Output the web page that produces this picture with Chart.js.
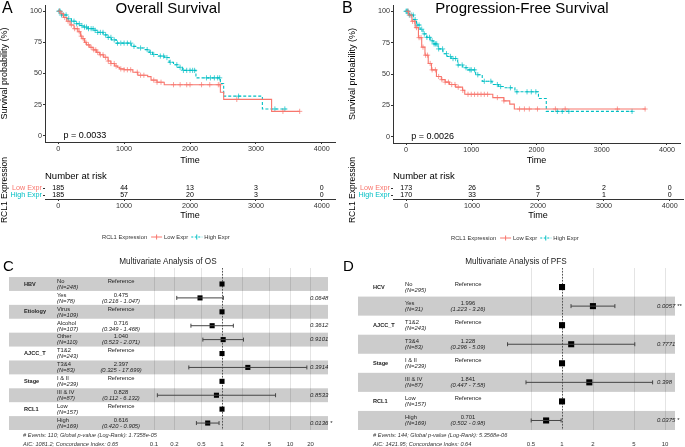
<!DOCTYPE html>
<html>
<head>
<meta charset="utf-8">
<script src="https://cdn.jsdelivr.net/npm/chart.js@4.4.1/dist/chart.umd.min.js"></script>
<style>
body { margin: 0; background: #fff; }
#fig { position: relative; width: 685px; height: 447px; overflow: hidden; background: #fff;
       font-family: "Liberation Sans", Arial, sans-serif; color: #000; }
#fig canvas { position: absolute; }
.lbl { position: absolute; white-space: nowrap; line-height: 1; }
</style>
</head>
<body>
<div id="fig">
  <canvas id="kmA" width="345" height="165" style="left:0px;top:0px"></canvas>
  <canvas id="kmB" width="345" height="165" style="left:340px;top:0px"></canvas>
  <canvas id="riskA" width="345" height="95" style="left:0px;top:150px"></canvas>
  <canvas id="riskB" width="345" height="95" style="left:340px;top:150px"></canvas>
  <canvas id="forestC" width="345" height="192" style="left:0px;top:255px"></canvas>
  <canvas id="forestD" width="345" height="192" style="left:340px;top:255px"></canvas>

  <div class="lbl" style="left:2px;top:0px;font-size:16px">A</div>
  <div class="lbl" style="left:68px;top:0px;width:200px;text-align:center;font-size:15px">Overall Survival</div>
  <div class="lbl" style="left:342px;top:0px;font-size:16px">B</div>
  <div class="lbl" style="left:402px;top:0px;width:240px;text-align:center;font-size:15px">Progression-Free Survival</div>
  <div class="lbl" style="left:3px;top:258px;font-size:15px">C</div>
  <div class="lbl" style="left:68px;top:258px;width:200px;text-align:center;font-size:8.2px;color:#222">Multivariate Analysis of OS</div>
  <div class="lbl" style="left:343px;top:258px;font-size:15px">D</div>
  <div class="lbl" style="left:416px;top:258px;width:200px;text-align:center;font-size:8.2px;color:#222">Multivariate Analysis of PFS</div>
</div>

<script>
// colours and font
const RED = "#F8766D";
const CYAN = "#00BFC4";
const FONT = "'Liberation Sans', Arial, sans-serif";
Chart.defaults.font.family = FONT;

// ---- Kaplan-Meier data ----
const timeTicks = [0, 1000, 2000, 3000, 4000];
const survTicks = [0, 25, 50, 75, 100];
const groups = ["Low Expr", "High Expr"];

const osLowT = [0, 40, 80, 130, 180, 240, 300, 340, 360, 400, 430, 480, 530, 580, 630, 690, 757, 800, 857, 900, 932, 1000, 1133, 1208, 1358, 1409, 1500, 1609, 2461, 2511, 3238, 3664];
const osLowS = [100, 98, 95, 92, 89, 86, 83.5, 80, 78, 75, 73, 71, 69, 67, 65, 63, 60, 58, 56, 55, 53.7, 53, 51, 48.6, 47.5, 44.7, 43, 41, 35, 29.2, 19.6, 19.6];
const osLowCens = [20, 60, 100, 150, 200, 250, 290, 320, 350, 380, 420, 460, 500, 540, 570, 600, 640, 680, 720, 760, 800, 850, 880, 950, 1000, 1050, 1100, 1200, 1250, 1300, 1450, 1500, 1560, 1750, 1850, 1950, 2000, 2175, 2300, 2430, 2456, 2710, 3410, 3664];

const osHighT = [0, 50, 130, 200, 280, 330, 380, 450, 531, 600, 681, 750, 807, 882, 1108, 1200, 1308, 1380, 1433, 1520, 1609, 1684, 1750, 1809, 1884, 2090, 2461, 2511, 3098, 3463];
const osHighS = [100, 97, 94, 92, 90, 88.5, 87.3, 86, 84.7, 83, 81, 79, 77, 74.4, 71.8, 70.5, 69.2, 67, 65.3, 64, 62.8, 59, 57, 55, 52.5, 46.5, 42, 31.8, 21.5, 21.5];
const osHighCens = [10, 20, 30, 50, 80, 120, 160, 200, 240, 280, 320, 360, 400, 430, 460, 500, 530, 560, 600, 640, 680, 720, 760, 800, 850, 900, 950, 1000, 1050, 1100, 1150, 1250, 1350, 1400, 1450, 1550, 1600, 1650, 1700, 1800, 1850, 1900, 1950, 2000, 2040, 2070, 2250, 2310, 2370, 2420, 2450, 2737, 3288, 3439];

const pfsLowT = [0, 40, 90, 140, 190, 240, 290, 340, 390, 466, 541, 600, 666, 760, 866, 900, 1330, 1500, 1590, 1660, 3674];
const pfsLowS = [100, 97, 92, 87, 79, 71.4, 65, 58.4, 53.3, 48, 45.5, 43.5, 41.6, 39.5, 37, 33.8, 31.2, 28.6, 26, 22.1, 22.1];
const pfsLowCens = [30, 60, 100, 130, 160, 200, 230, 260, 300, 330, 370, 400, 450, 500, 550, 600, 650, 700, 750, 800, 870, 950, 1000, 1050, 1100, 1150, 1200, 1250, 1400, 1500, 1740, 1815, 1890, 2015, 2290, 2440, 3240, 3665];

const pfsHighT = [0, 50, 115, 160, 215, 260, 316, 370, 416, 491, 566, 630, 691, 792, 870, 942, 1067, 1168, 1318, 1420, 1519, 1669, 2030, 2150, 3473];
const pfsHighS = [100, 97, 93.4, 89, 85.7, 82, 79.2, 76.5, 74, 70, 66.2, 64, 62.3, 57.2, 55, 53.3, 49.4, 44.2, 41.6, 40, 39, 35.8, 30.5, 20.2, 20.2];
const pfsHighCens = [0, 10, 20, 30, 50, 80, 110, 140, 170, 200, 240, 280, 320, 360, 400, 430, 450, 470, 500, 560, 620, 680, 720, 760, 800, 860, 920, 980, 1000, 1050, 1100, 1200, 1300, 1400, 1450, 1600, 1700, 1855, 1920, 1990, 2320, 2395, 2496, 3465];

// number at risk
const riskTimes = [0, 1000, 2000, 3000, 4000];
const osRiskLow = [185, 44, 13, 3, 0];
const osRiskHigh = [185, 57, 20, 3, 0];
const pfsRiskLow = [173, 26, 5, 2, 0];
const pfsRiskHigh = [170, 33, 7, 1, 0];

// ---- forest plot data ----
const osVars = ["HBV", "", "Etiology", "", "", "AJCC_T", "", "Stage", "", "RCL1", ""];
const osLevels = ["No", "Yes", "Virus", "Alcohol", "Other", "T1&2", "T3&4", "I & II", "III & IV", "Low", "High"];
const osN = [248, 78, 109, 107, 110, 243, 83, 239, 87, 157, 169];
const osHR = [1, 0.475, 1, 0.716, 1.040, 1, 2.397, 1, 0.828, 1, 0.616];
const osLo = [null, 0.216, null, 0.349, 0.523, null, 0.325, null, 0.112, null, 0.420];
const osHi = [null, 1.047, null, 1.468, 2.071, null, 17.699, null, 6.132, null, 0.905];
const osP = ["", "0.0648", "", "0.3612", "0.9101", "", "0.3914", "", "0.8533", "", "0.0136 *"];
const osTicks = [0.1, 0.2, 0.5, 1, 2, 5, 10, 20];
const osFoot = ["# Events: 110; Global p-value (Log-Rank): 1.7358e-05", "AIC: 1081.2; Concordance Index: 0.65"];

const pfsVars = ["HCV", "", "AJCC_T", "", "Stage", "", "RCL1", ""];
const pfsLevels = ["No", "Yes", "T1&2", "T3&4", "I & II", "III & IV", "Low", "High"];
const pfsN = [295, 31, 243, 83, 239, 87, 157, 169];
const pfsHR = [1, 1.996, 1, 1.228, 1, 1.841, 1, 0.701];
const pfsLo = [null, 1.223, null, 0.296, null, 0.447, null, 0.502];
const pfsHi = [null, 3.26, null, 5.09, null, 7.58, null, 0.98];
const pfsP = ["", "0.0057 **", "", "0.7771", "", "0.398", "", "0.0375 *"];
const pfsTicks = [0.5, 1, 2, 5, 10];
const pfsFoot = ["# Events: 144; Global p-value (Log-Rank): 5.3568e-06", "AIC: 1421.95; Concordance Index: 0.64"];

// helpers
function pts(xs, ys) {
    return xs.map((x, i) => ({x: x, y: ys[i]}));
}
function stepValue(ts, ss, t) {
    let v = ss[0];
    for (let i = 0; i < ts.length; i++) {
        if (ts[i] <= t) v = ss[i];
    }
    return v;
}
function censorPts(cens, ts, ss) {
    return cens.map(t => ({x: t, y: stepValue(ts, ss, t)}));
}
function setTicks(list) {
    return s => { s.ticks = list.map(v => ({value: v})); };
}

//Survival curves

function drawKM(id, pad, lowT, lowS, lowC, highT, highS, highC, pText) {
    new Chart(document.getElementById(id), {
        type: "scatter",
        data: {
            datasets: [
                {data: pts(lowT, lowS), showLine: true, stepped: true, borderColor: RED, borderWidth: 1.1, pointRadius: 0},
                {data: pts(highT, highS), showLine: true, stepped: true, borderColor: CYAN, borderWidth: 1.1, borderDash: [3, 2], pointRadius: 0},
                {data: censorPts(lowC, lowT, lowS), pointStyle: "cross", pointRadius: 2.6, borderColor: "rgba(248,118,109,0.7)", borderWidth: 1},
                {data: censorPts(highC, highT, highS), pointStyle: "cross", pointRadius: 2.6, borderColor: "rgba(0,191,196,0.7)", borderWidth: 1}
            ]
        },
        options: {
            responsive: false,
            animation: false,
            devicePixelRatio: 1,
            layout: {padding: {left: pad.left, right: pad.right, top: pad.top, bottom: 0}},
            plugins: {legend: {display: false}, tooltip: {enabled: false}},
            scales: {
                x: {
                    type: "linear", min: -200, max: 4200,
                    afterBuildTicks: setTicks(timeTicks),
                    afterFit: s => { s.height = pad.xh; s.paddingLeft = 0; s.paddingRight = 0; },
                    grid: {drawOnChartArea: false, tickLength: 2, color: "#333"},
                    border: {color: "#333"},
                    ticks: {font: {size: 7.2}, color: "#333", padding: 1, maxRotation: 0, autoSkip: false, callback: v => String(v)},
                    title: {display: true, text: "Time", font: {size: 9, lineHeight: 1}, color: "#000", padding: 0}
                },
                y: {
                    min: -5, max: 105,
                    afterBuildTicks: setTicks(survTicks),
                    afterFit: s => { s.width = 45; s.paddingTop = 0; s.paddingBottom = 0; },
                    grid: {drawOnChartArea: false, tickLength: 2, color: "#333"},
                    border: {color: "#333"},
                    ticks: {font: {size: 7.2}, color: "#333", padding: 1, autoSkip: false, callback: v => String(v)},
                    title: {display: true, text: "Survival probability (%)", font: {size: 9, lineHeight: 1}, color: "#000", padding: {top: 0.5, bottom: 0}}
                }
            }
        },
        plugins: [{
            id: "pval",
            afterDatasetsDraw(chart) {
                const c = chart.ctx;
                c.save();
                c.font = "9px " + FONT;
                c.fillStyle = "#000";
                c.textBaseline = "middle";
                c.fillText(pText, chart.scales.x.getPixelForValue(80), chart.scales.y.getPixelForValue(0));
                c.restore();
            }
        }]
    });
}

drawKM("kmA", {left: 0, right: 10, top: 0, xh: 23}, osLowT, osLowS, osLowCens, osHighT, osHighS, osHighCens, "p = 0.0033");
drawKM("kmB", {left: 8, right: 2, top: 2, xh: 22}, pfsLowT, pfsLowS, pfsLowCens, pfsHighT, pfsHighS, pfsHighCens, "p = 0.0026");

//Risk tables + legend

function drawRisk(id, pad, lowN, highN, legendX, legendY) {
    new Chart(document.getElementById(id), {
        type: "scatter",
        data: {
            datasets: [
                {data: riskTimes.map(t => ({x: t, y: 2})), counts: lowN, pointRadius: 0},
                {data: riskTimes.map(t => ({x: t, y: 1})), counts: highN, pointRadius: 0}
            ]
        },
        options: {
            responsive: false,
            animation: false,
            devicePixelRatio: 1,
            layout: {padding: {left: pad.left, right: pad.right, top: 31, bottom: 15}},
            plugins: {legend: {display: false}, tooltip: {enabled: false}},
            scales: {
                x: {
                    type: "linear", min: -200, max: 4200,
                    afterBuildTicks: setTicks(timeTicks),
                    afterFit: s => { s.height = 31; s.paddingLeft = 0; s.paddingRight = 0; },
                    grid: {drawOnChartArea: false, tickLength: 2, color: "#333"},
                    border: {color: "#333"},
                    ticks: {font: {size: 7.2}, color: "#333", padding: 1, maxRotation: 0, autoSkip: false, callback: v => String(v)},
                    title: {display: true, text: "Time", font: {size: 9, lineHeight: 1}, color: "#000", padding: {top: 0, bottom: 9.5}}
                },
                y: {
                    min: 0.43, max: 3,
                    afterBuildTicks: setTicks([1, 2]),
                    afterFit: s => { s.width = 45; s.paddingTop = 0; s.paddingBottom = 0; },
                    grid: {drawOnChartArea: false, tickLength: 2, color: "#333"},
                    border: {display: false},
                    ticks: {
                        font: {size: 7.2}, padding: 1, autoSkip: false,
                        color: ctx => (ctx.tick && ctx.tick.value === 2) ? RED : CYAN,
                        callback: v => v === 2 ? groups[0] : groups[1]
                    },
                    title: {display: true, text: "RCL1 Expression", font: {size: 8.5, lineHeight: 1}, color: "#000", padding: {top: 0.5, bottom: 0}}
                }
            }
        },
        plugins: [{
            id: "riskText",
            afterDatasetsDraw(chart) {
                const c = chart.ctx;
                c.save();
                c.fillStyle = "#000";
                c.textBaseline = "middle";
                c.font = "9.5px " + FONT;
                c.fillText("Number at risk", chart.chartArea.left, 26);
                c.font = "7px " + FONT;
                c.textAlign = "center";
                chart.data.datasets.forEach((ds, di) => {
                    chart.getDatasetMeta(di).data.forEach((p, i) => {
                        c.fillText(String(ds.counts[i]), p.x, p.y);
                    });
                });
                // legend
                c.textAlign = "left";
                c.font = "5.8px " + FONT;
                c.fillStyle = "#333";
                let x = legendX;
                c.fillText("RCL1 Expression", x, legendY);
                x += c.measureText("RCL1 Expression").width + 4;
                [[RED, [], groups[0]], [CYAN, [2, 1.5], groups[1]]].forEach(item => {
                    c.strokeStyle = item[0];
                    c.lineWidth = 1;
                    c.setLineDash(item[1]);
                    c.beginPath();
                    c.moveTo(x, legendY);
                    c.lineTo(x + 11, legendY);
                    c.stroke();
                    c.setLineDash([]);
                    c.beginPath();
                    c.moveTo(x + 5.5, legendY - 2.5);
                    c.lineTo(x + 5.5, legendY + 2.5);
                    c.stroke();
                    x += 13;
                    c.fillText(item[2], x, legendY);
                    x += c.measureText(item[2]).width + 3;
                });
                c.restore();
            }
        }]
    });
}

drawRisk("riskA", {left: 0, right: 10}, osRiskLow, osRiskHigh, 102, 87);
drawRisk("riskB", {left: 8, right: 2}, pfsRiskLow, pfsRiskHigh, 111, 88);

//Forest plots

function drawForest(id, f) {
    const n = f.levels.length;
    const bars = [];
    f.hr.forEach((hr, i) => {
        if (f.lo[i] === null) return;
        bars.push({
            data: [{x: f.lo[i], y: i + 1}, {x: f.hi[i], y: i + 1}],
            showLine: true, borderColor: "#444", borderWidth: 1,
            pointStyle: "line", rotation: 90, pointRadius: 2, pointBorderColor: "#444", pointBorderWidth: 1
        });
    });
    bars.push({
        data: f.hr.map((hr, i) => ({x: hr, y: i + 1})),
        pointStyle: "rect", pointRadius: f.box, backgroundColor: "#000", borderColor: "#000", borderWidth: 0
    });

    new Chart(document.getElementById(id), {
        type: "scatter",
        data: {datasets: bars},
        options: {
            responsive: false,
            animation: false,
            devicePixelRatio: 1,
            layout: {padding: {left: f.left, right: f.right, top: 13, bottom: 0}},
            plugins: {legend: {display: false}, tooltip: {enabled: false}},
            scales: {
                x: {
                    type: "logarithmic", min: f.min, max: f.max,
                    afterBuildTicks: setTicks(f.ticks),
                    afterFit: s => { s.height = 17; s.paddingLeft = 0; s.paddingRight = 0; },
                    grid: {color: "#e4e4e4", lineWidth: 1, drawTicks: false},
                    border: {display: false},
                    ticks: {font: {size: 6}, color: "#333", padding: 11, maxRotation: 0, autoSkip: false, callback: v => String(v)}
                },
                y: {type: "linear", reverse: true, min: f.ymin, max: n + 0.5, display: false}
            }
        },
        plugins: [{
            id: "forestBands",
            beforeDatasetsDraw(chart) {
                const c = chart.ctx, ys = chart.scales.y, xs = chart.scales.x, a = chart.chartArea;
                c.save();
                c.fillStyle = "rgba(0,0,0,0.2)";
                for (let i = 1; i <= n; i++) {
                    if (i % 2 !== f.band) continue;
                    const t = ys.getPixelForValue(i - 0.5), b = ys.getPixelForValue(i + 0.5);
                    c.fillRect(f.bandL, t, a.right - f.bandL, b - t);
                }
                const x1 = Math.round(xs.getPixelForValue(1)) + 0.5;
                c.strokeStyle = "#555";
                c.lineWidth = 1;
                c.setLineDash([1.5, 1.5]);
                c.beginPath();
                c.moveTo(x1, a.top);
                c.lineTo(x1, a.bottom);
                c.stroke();
                c.restore();
            },
            afterDatasetsDraw(chart) {
                const c = chart.ctx, ys = chart.scales.y;
                c.save();
                c.fillStyle = "#222";
                c.textBaseline = "middle";
                for (let i = 0; i < n; i++) {
                    const y = ys.getPixelForValue(i + 1);
                    c.textAlign = "left";
                    if (f.vars[i]) {
                        c.font = "bold 5.6px " + FONT;
                        c.fillText(f.vars[i], f.colVar, y);
                    }
                    c.font = "5.8px " + FONT;
                    c.fillText(f.levels[i], f.colLevel, y - 2.8);
                    c.font = "italic 5.8px " + FONT;
                    c.fillText("(N=" + f.nn[i] + ")", f.colLevel, y + 3.2);
                    c.textAlign = "center";
                    c.font = "5.8px " + FONT;
                    if (f.lo[i] === null) {
                        c.fillText("Reference", f.colEst, y - 2.8);
                    } else {
                        c.fillText(f.fmt(f.hr[i]), f.colEst, y - 2.8);
                        c.font = "italic 5.8px " + FONT;
                        c.fillText("(" + f.fmt(f.lo[i]) + " - " + f.fmt(f.hi[i]) + ")", f.colEst, y + 3.2);
                    }
                    c.textAlign = "left";
                    c.font = "italic 6px " + FONT;
                    c.fillText(f.p[i], f.colP, y);
                }
                c.font = "italic 5.6px " + FONT;
                c.fillStyle = "#333";
                c.fillText(f.foot[0], f.colFoot, 180);
                c.fillText(f.foot[1], f.colFoot, 189);
                c.restore();
            }
        }]
    });
}

drawForest("forestC", {
    vars: osVars, levels: osLevels, nn: osN, hr: osHR, lo: osLo, hi: osHi, p: osP, ticks: osTicks, foot: osFoot,
    fmt: v => v.toFixed(3), min: 0.0873, max: 36.2, ymin: -0.15, left: 150, right: 17, box: 3.6, band: 1,
    bandL: 9, colVar: 24, colLevel: 57, colEst: 121, colP: 310, colFoot: 23
});
drawForest("forestD", {
    vars: pfsVars, levels: pfsLevels, nn: pfsN, hr: pfsHR, lo: pfsLo, hi: pfsHi, p: pfsP, ticks: pfsTicks, foot: pfsFoot,
    fmt: v => String(v), min: 0.25, max: 12.5, ymin: 0, left: 160, right: 10, box: 4.3, band: 0,
    bandL: 18, colVar: 33, colLevel: 65, colEst: 128, colP: 317, colFoot: 33
});
</script>
</body>
</html>
